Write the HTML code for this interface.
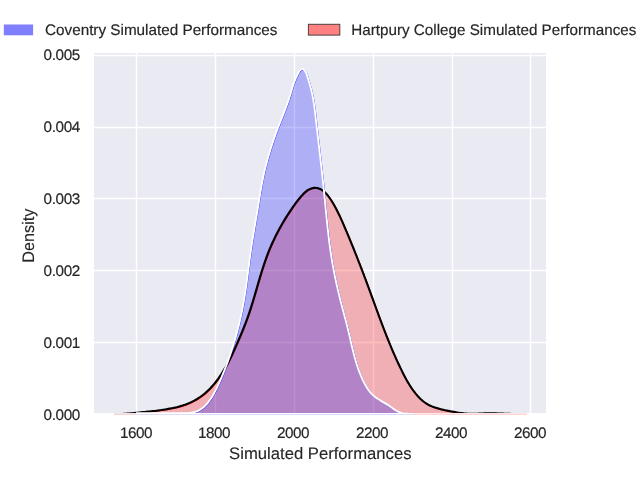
<!DOCTYPE html>
<html><head><meta charset="utf-8"><style>
html,body{margin:0;padding:0;background:#fff;}
body{width:640px;height:480px;overflow:hidden;}
svg{display:block;will-change:transform;text-rendering:geometricPrecision;font-family:"Liberation Sans",sans-serif;fill:#262626;}
text{stroke:#262626;stroke-width:0.18px;}
.l{stroke-width:0.12px;}
.t{font-size:15.28px;}
.l{font-size:16.67px;}
</style></head><body>
<svg width="640" height="480" viewBox="0 0 640 480">
<rect x="0" y="0" width="640" height="480" fill="#fff"/>
<rect x="94" y="53" width="452" height="360" fill="#eaeaf2"/>
<g stroke="#fff" stroke-width="1.39" fill="none"><line x1="136.5" y1="53" x2="136.5" y2="413"/><line x1="215.5" y1="53" x2="215.5" y2="413"/><line x1="294.5" y1="53" x2="294.5" y2="413"/><line x1="373.5" y1="53" x2="373.5" y2="413"/><line x1="452.5" y1="53" x2="452.5" y2="413"/><line x1="530.5" y1="53" x2="530.5" y2="413"/><line x1="94" y1="55.5" x2="546" y2="55.5"/><line x1="94" y1="127.5" x2="546" y2="127.5"/><line x1="94" y1="198.5" x2="546" y2="198.5"/><line x1="94" y1="270.5" x2="546" y2="270.5"/><line x1="94" y1="342.5" x2="546" y2="342.5"/></g>
<clipPath id="c"><rect x="94" y="53" width="452" height="360"/></clipPath>
<g clip-path="url(#c)" stroke-linejoin="round">
<path d="M113.75,414.30 L115.46,414.27 L117.18,414.22 L118.89,414.16 L120.60,414.08 L122.31,413.99 L124.02,413.88 L125.72,413.76 L127.43,413.63 L129.14,413.48 L130.84,413.33 L132.55,413.18 L134.25,413.01 L135.96,412.84 L137.66,412.67 L139.36,412.49 L141.07,412.31 L142.77,412.13 L144.48,411.96 L146.18,411.78 L147.88,411.61 L149.59,411.44 L151.29,411.27 L153.00,411.11 L154.70,410.93 L156.40,410.73 L158.09,410.51 L159.79,410.26 L161.48,410.00 L163.16,409.72 L164.85,409.44 L166.55,409.16 L168.24,408.87 L169.93,408.57 L171.62,408.26 L173.30,407.93 L174.98,407.58 L176.65,407.21 L178.32,406.80 L179.97,406.36 L181.61,405.87 L183.23,405.35 L184.84,404.79 L186.44,404.19 L188.03,403.55 L189.60,402.87 L191.16,402.15 L192.70,401.39 L194.23,400.59 L195.73,399.75 L197.21,398.87 L198.66,397.96 L200.08,397.01 L201.47,396.02 L202.83,395.00 L204.15,393.94 L205.45,392.85 L206.71,391.73 L207.95,390.58 L209.16,389.39 L210.35,388.18 L211.50,386.95 L212.64,385.68 L213.75,384.39 L214.83,383.08 L215.90,381.74 L216.94,380.39 L217.96,379.01 L218.96,377.61 L219.95,376.20 L220.91,374.77 L221.85,373.32 L222.78,371.86 L223.68,370.39 L224.57,368.91 L225.44,367.41 L226.29,365.91 L227.12,364.39 L227.94,362.88 L228.74,361.35 L229.52,359.82 L230.28,358.29 L231.03,356.76 L231.77,355.22 L232.50,353.68 L233.21,352.14 L233.91,350.59 L234.61,349.04 L235.30,347.49 L235.99,345.94 L236.68,344.38 L237.36,342.82 L238.04,341.26 L238.72,339.69 L239.39,338.12 L240.06,336.55 L240.73,334.98 L241.39,333.40 L242.04,331.82 L242.69,330.24 L243.34,328.65 L243.97,327.06 L244.60,325.46 L245.22,323.87 L245.83,322.26 L246.44,320.66 L247.03,319.05 L247.62,317.44 L248.19,315.82 L248.75,314.20 L249.30,312.58 L249.85,310.95 L250.38,309.32 L250.91,307.69 L251.43,306.05 L251.94,304.41 L252.45,302.77 L252.95,301.13 L253.44,299.49 L253.94,297.84 L254.42,296.19 L254.91,294.54 L255.39,292.90 L255.87,291.25 L256.35,289.60 L256.82,287.95 L257.30,286.30 L257.78,284.65 L258.26,283.00 L258.74,281.35 L259.23,279.71 L259.71,278.06 L260.20,276.42 L260.70,274.78 L261.20,273.14 L261.70,271.50 L262.21,269.87 L262.73,268.24 L263.26,266.61 L263.79,264.99 L264.33,263.36 L264.89,261.75 L265.45,260.13 L266.02,258.53 L266.60,256.92 L267.20,255.32 L267.80,253.73 L268.42,252.14 L269.06,250.55 L269.70,248.97 L270.36,247.40 L271.04,245.83 L271.72,244.27 L272.42,242.72 L273.13,241.17 L273.86,239.62 L274.59,238.08 L275.34,236.55 L276.10,235.02 L276.88,233.50 L277.66,231.99 L278.46,230.48 L279.27,228.97 L280.10,227.47 L280.93,225.98 L281.78,224.50 L282.63,223.02 L283.50,221.55 L284.38,220.08 L285.27,218.62 L286.18,217.16 L287.09,215.72 L288.01,214.27 L288.95,212.84 L289.90,211.41 L290.85,209.99 L291.82,208.57 L292.80,207.16 L293.79,205.76 L294.79,204.37 L295.80,202.98 L296.84,201.60 L297.90,200.23 L298.98,198.87 L300.10,197.52 L301.25,196.17 L302.44,194.85 L303.68,193.56 L304.96,192.34 L306.30,191.21 L307.69,190.21 L309.15,189.35 L310.67,188.67 L312.23,188.18 L313.82,187.89 L315.42,187.83 L317.02,187.99 L318.58,188.37 L320.10,188.95 L321.55,189.72 L322.94,190.67 L324.27,191.75 L325.54,192.96 L326.75,194.26 L327.91,195.64 L329.01,197.07 L330.05,198.53 L331.04,200.00 L331.99,201.47 L332.89,202.94 L333.76,204.42 L334.59,205.90 L335.41,207.40 L336.20,208.90 L336.98,210.42 L337.74,211.94 L338.49,213.47 L339.23,215.00 L339.95,216.54 L340.66,218.09 L341.36,219.64 L342.05,221.20 L342.74,222.76 L343.42,224.33 L344.09,225.90 L344.76,227.47 L345.43,229.04 L346.10,230.61 L346.76,232.19 L347.43,233.76 L348.09,235.34 L348.74,236.92 L349.40,238.50 L350.05,240.08 L350.70,241.67 L351.35,243.25 L352.00,244.84 L352.65,246.43 L353.29,248.01 L353.93,249.60 L354.57,251.19 L355.21,252.79 L355.84,254.38 L356.47,255.97 L357.10,257.57 L357.73,259.16 L358.36,260.76 L358.98,262.36 L359.60,263.95 L360.22,265.55 L360.84,267.15 L361.46,268.75 L362.07,270.35 L362.68,271.95 L363.29,273.56 L363.90,275.16 L364.50,276.76 L365.11,278.36 L365.71,279.97 L366.31,281.57 L366.90,283.18 L367.50,284.78 L368.09,286.39 L368.68,287.99 L369.27,289.60 L369.86,291.20 L370.45,292.81 L371.03,294.41 L371.62,296.02 L372.20,297.63 L372.79,299.23 L373.37,300.84 L373.96,302.44 L374.54,304.05 L375.13,305.65 L375.71,307.26 L376.30,308.86 L376.88,310.47 L377.47,312.07 L378.06,313.68 L378.65,315.28 L379.25,316.88 L379.84,318.49 L380.44,320.09 L381.04,321.69 L381.64,323.29 L382.24,324.89 L382.85,326.49 L383.46,328.09 L384.08,329.69 L384.69,331.29 L385.31,332.88 L385.94,334.48 L386.57,336.08 L387.20,337.67 L387.84,339.26 L388.48,340.86 L389.13,342.45 L389.78,344.04 L390.44,345.63 L391.10,347.22 L391.77,348.80 L392.44,350.39 L393.12,351.97 L393.81,353.55 L394.50,355.12 L395.20,356.70 L395.90,358.27 L396.60,359.83 L397.32,361.40 L398.04,362.95 L398.76,364.50 L399.50,366.05 L400.23,367.59 L400.98,369.13 L401.73,370.66 L402.49,372.18 L403.25,373.70 L404.02,375.21 L404.81,376.71 L405.60,378.20 L406.41,379.68 L407.24,381.16 L408.09,382.62 L408.96,384.07 L409.85,385.50 L410.77,386.93 L411.71,388.34 L412.69,389.73 L413.70,391.11 L414.75,392.48 L415.83,393.83 L416.95,395.15 L418.10,396.45 L419.30,397.71 L420.54,398.93 L421.82,400.10 L423.14,401.21 L424.50,402.27 L425.90,403.25 L427.35,404.16 L428.85,404.99 L430.38,405.73 L431.95,406.40 L433.56,407.01 L435.18,407.57 L436.81,408.08 L438.45,408.56 L440.10,409.01 L441.76,409.43 L443.43,409.83 L445.10,410.20 L446.78,410.55 L448.47,410.89 L450.15,411.21 L451.84,411.53 L453.52,411.83 L455.21,412.13 L456.90,412.42 L458.59,412.68 L460.28,412.93 L461.97,413.15 L463.67,413.35 L465.37,413.51 L467.08,413.63 L468.79,413.71 L470.50,413.76 L472.22,413.79 L473.93,413.78 L475.65,413.75 L477.36,413.70 L479.08,413.64 L480.79,413.57 L482.50,413.49 L484.21,413.41 L485.92,413.34 L487.63,413.29 L489.34,413.26 L491.05,413.26 L492.76,413.28 L494.47,413.32 L496.18,413.37 L497.90,413.43 L499.61,413.50 L501.32,413.58 L503.03,413.65 L504.75,413.72 L506.46,413.78 L508.17,413.85 L509.88,413.91 L511.59,413.96 L513.30,414.01 L515.01,414.05 L516.72,414.08 L518.44,414.11 L520.15,414.12 L521.86,414.13 L523.57,414.13 L525.29,414.12 L527.00,414.09 L527.00,413.5 L113.75,413.5 Z" fill="rgba(255,0,0,0.25)" stroke="#ff0000" stroke-width="1.2" transform="translate(0.5,0.5)"/>
<path d="M136.00,413.20 L138.03,413.21 L140.06,413.22 L142.09,413.22 L144.11,413.23 L146.14,413.23 L148.17,413.22 L150.19,413.22 L152.22,413.21 L154.24,413.20 L156.27,413.20 L158.30,413.19 L160.32,413.18 L162.35,413.18 L164.37,413.17 L166.40,413.17 L168.43,413.17 L170.45,413.17 L172.48,413.17 L174.51,413.18 L176.54,413.19 L178.57,413.21 L180.60,413.23 L182.63,413.25 L184.66,413.24 L186.69,413.18 L188.70,413.05 L190.71,412.82 L192.71,412.47 L194.68,411.98 L196.61,411.35 L198.48,410.57 L200.27,409.63 L201.96,408.52 L203.55,407.26 L205.04,405.86 L206.45,404.37 L207.77,402.81 L209.03,401.20 L210.22,399.55 L211.35,397.88 L212.43,396.17 L213.46,394.44 L214.44,392.68 L215.38,390.90 L216.29,389.10 L217.17,387.28 L218.02,385.45 L218.85,383.61 L219.66,381.75 L220.47,379.90 L221.26,378.04 L222.04,376.17 L222.81,374.30 L223.57,372.42 L224.32,370.54 L225.07,368.65 L225.80,366.76 L226.52,364.87 L227.22,362.97 L227.92,361.06 L228.61,359.15 L229.29,357.24 L229.96,355.32 L230.61,353.40 L231.26,351.48 L231.89,349.55 L232.51,347.62 L233.12,345.68 L233.73,343.74 L234.31,341.80 L234.89,339.86 L235.46,337.91 L236.01,335.95 L236.56,334.00 L237.09,332.04 L237.61,330.08 L238.12,328.11 L238.62,326.15 L239.10,324.18 L239.58,322.20 L240.04,320.23 L240.49,318.25 L240.93,316.27 L241.35,314.29 L241.77,312.30 L242.17,310.32 L242.56,308.33 L242.93,306.34 L243.30,304.34 L243.65,302.35 L244.00,300.35 L244.33,298.35 L244.65,296.36 L244.97,294.35 L245.28,292.35 L245.58,290.35 L245.87,288.35 L246.16,286.34 L246.44,284.34 L246.71,282.33 L246.98,280.32 L247.25,278.31 L247.52,276.30 L247.78,274.30 L248.04,272.29 L248.30,270.28 L248.57,268.27 L248.83,266.26 L249.09,264.25 L249.35,262.24 L249.62,260.23 L249.89,258.22 L250.16,256.21 L250.43,254.21 L250.72,252.20 L251.00,250.19 L251.30,248.19 L251.59,246.18 L251.90,244.18 L252.21,242.18 L252.53,240.18 L252.85,238.18 L253.18,236.18 L253.51,234.18 L253.85,232.18 L254.18,230.18 L254.52,228.18 L254.86,226.18 L255.20,224.18 L255.54,222.18 L255.89,220.19 L256.23,218.19 L256.57,216.19 L256.90,214.19 L257.24,212.19 L257.57,210.19 L257.90,208.19 L258.22,206.19 L258.54,204.18 L258.86,202.18 L259.18,200.18 L259.50,198.18 L259.82,196.18 L260.14,194.18 L260.47,192.18 L260.81,190.18 L261.15,188.18 L261.51,186.19 L261.87,184.19 L262.25,182.20 L262.64,180.22 L263.04,178.23 L263.46,176.25 L263.89,174.27 L264.34,172.29 L264.80,170.32 L265.27,168.35 L265.76,166.39 L266.26,164.42 L266.78,162.46 L267.31,160.50 L267.85,158.55 L268.40,156.60 L268.97,154.65 L269.55,152.71 L270.14,150.77 L270.74,148.83 L271.36,146.90 L271.98,144.97 L272.62,143.05 L273.27,141.12 L273.92,139.21 L274.59,137.29 L275.27,135.38 L275.96,133.47 L276.66,131.57 L277.37,129.67 L278.08,127.78 L278.81,125.88 L279.54,123.99 L280.28,122.11 L281.02,120.22 L281.76,118.34 L282.50,116.45 L283.24,114.57 L283.98,112.68 L284.70,110.80 L285.43,108.91 L286.14,107.01 L286.84,105.12 L287.52,103.21 L288.20,101.31 L288.85,99.39 L289.49,97.47 L290.11,95.55 L290.71,93.61 L291.28,91.67 L291.83,89.71 L292.39,87.76 L292.98,85.81 L293.62,83.87 L294.32,81.95 L295.09,80.06 L295.90,78.19 L296.73,76.35 L297.59,74.55 L298.47,72.79 L299.56,70.98 L301.01,69.34 L302.75,69.06 L304.45,70.33 L305.67,72.04 L306.51,73.86 L307.15,75.74 L307.73,77.66 L308.32,79.59 L308.92,81.54 L309.51,83.49 L310.10,85.45 L310.65,87.42 L311.16,89.39 L311.64,91.37 L312.09,93.35 L312.50,95.34 L312.89,97.33 L313.25,99.32 L313.58,101.32 L313.89,103.32 L314.19,105.32 L314.47,107.33 L314.73,109.33 L314.98,111.34 L315.22,113.35 L315.46,115.36 L315.69,117.37 L315.91,119.39 L316.14,121.40 L316.37,123.41 L316.60,125.42 L316.83,127.43 L317.06,129.45 L317.29,131.46 L317.53,133.47 L317.76,135.48 L317.99,137.50 L318.22,139.51 L318.46,141.52 L318.69,143.53 L318.92,145.55 L319.15,147.56 L319.39,149.57 L319.62,151.58 L319.85,153.60 L320.08,155.61 L320.31,157.62 L320.54,159.64 L320.77,161.65 L321.00,163.66 L321.23,165.68 L321.46,167.69 L321.68,169.71 L321.91,171.72 L322.13,173.74 L322.35,175.75 L322.57,177.77 L322.79,179.78 L323.01,181.80 L323.22,183.81 L323.44,185.83 L323.65,187.85 L323.86,189.86 L324.07,191.88 L324.27,193.90 L324.48,195.92 L324.68,197.94 L324.88,199.95 L325.08,201.97 L325.27,203.99 L325.47,206.01 L325.67,208.03 L325.86,210.05 L326.06,212.07 L326.26,214.09 L326.46,216.11 L326.66,218.12 L326.87,220.14 L327.07,222.16 L327.28,224.18 L327.50,226.19 L327.71,228.21 L327.93,230.22 L328.16,232.24 L328.39,234.25 L328.63,236.26 L328.87,238.28 L329.11,240.29 L329.37,242.30 L329.63,244.31 L329.90,246.31 L330.17,248.32 L330.45,250.32 L330.75,252.33 L331.05,254.33 L331.36,256.33 L331.67,258.33 L332.00,260.33 L332.34,262.32 L332.68,264.32 L333.04,266.31 L333.40,268.30 L333.78,270.29 L334.16,272.28 L334.55,274.27 L334.94,276.25 L335.35,278.24 L335.77,280.22 L336.19,282.20 L336.62,284.18 L337.06,286.16 L337.51,288.14 L337.96,290.11 L338.43,292.09 L338.90,294.06 L339.38,296.03 L339.86,298.00 L340.36,299.97 L340.86,301.93 L341.37,303.90 L341.88,305.86 L342.40,307.83 L342.92,309.79 L343.44,311.75 L343.96,313.71 L344.49,315.68 L345.01,317.64 L345.53,319.60 L346.04,321.56 L346.55,323.53 L347.05,325.49 L347.54,327.46 L348.03,329.43 L348.51,331.40 L348.97,333.37 L349.43,335.34 L349.89,337.31 L350.34,339.28 L350.79,341.25 L351.25,343.22 L351.70,345.19 L352.17,347.16 L352.63,349.12 L353.11,351.08 L353.60,353.04 L354.10,355.00 L354.62,356.95 L355.16,358.89 L355.71,360.83 L356.28,362.77 L356.88,364.70 L357.50,366.62 L358.15,368.53 L358.83,370.44 L359.54,372.34 L360.29,374.23 L361.07,376.11 L361.88,377.98 L362.73,379.85 L363.63,381.70 L364.57,383.54 L365.56,385.35 L366.60,387.13 L367.71,388.86 L368.88,390.53 L370.13,392.13 L371.46,393.64 L372.87,395.07 L374.37,396.38 L375.96,397.59 L377.62,398.72 L379.32,399.79 L381.04,400.81 L382.78,401.82 L384.52,402.84 L386.25,403.86 L387.97,404.93 L389.66,406.05 L391.32,407.23 L392.96,408.45 L394.61,409.64 L396.30,410.75 L398.05,411.73 L399.89,412.52 L401.84,413.09 L403.87,413.45 L405.94,413.67 L408.03,413.78 L410.09,413.84 L412.10,413.90 L414.00,414.00 L414.00,413.5 L136.00,413.5 Z" fill="rgba(0,0,255,0.25)" stroke="#0000ff" stroke-width="1.2" transform="translate(0.5,0.5)"/>
<path d="M113.75,414.30 L115.46,414.27 L117.18,414.22 L118.89,414.16 L120.60,414.08 L122.31,413.99 L124.02,413.88 L125.72,413.76 L127.43,413.63 L129.14,413.48 L130.84,413.33 L132.55,413.18 L134.25,413.01 L135.96,412.84 L137.66,412.67 L139.36,412.49 L141.07,412.31 L142.77,412.13 L144.48,411.96 L146.18,411.78 L147.88,411.61 L149.59,411.44 L151.29,411.27 L153.00,411.11 L154.70,410.93 L156.40,410.73 L158.09,410.51 L159.79,410.26 L161.48,410.00 L163.16,409.72 L164.85,409.44 L166.55,409.16 L168.24,408.87 L169.93,408.57 L171.62,408.26 L173.30,407.93 L174.98,407.58 L176.65,407.21 L178.32,406.80 L179.97,406.36 L181.61,405.87 L183.23,405.35 L184.84,404.79 L186.44,404.19 L188.03,403.55 L189.60,402.87 L191.16,402.15 L192.70,401.39 L194.23,400.59 L195.73,399.75 L197.21,398.87 L198.66,397.96 L200.08,397.01 L201.47,396.02 L202.83,395.00 L204.15,393.94 L205.45,392.85 L206.71,391.73 L207.95,390.58 L209.16,389.39 L210.35,388.18 L211.50,386.95 L212.64,385.68 L213.75,384.39 L214.83,383.08 L215.90,381.74 L216.94,380.39 L217.96,379.01 L218.96,377.61 L219.95,376.20 L220.91,374.77 L221.85,373.32 L222.78,371.86 L223.68,370.39 L224.57,368.91 L225.44,367.41 L226.29,365.91 L227.12,364.39 L227.94,362.88 L228.74,361.35 L229.52,359.82 L230.28,358.29 L231.03,356.76 L231.77,355.22 L232.50,353.68 L233.21,352.14 L233.91,350.59 L234.61,349.04 L235.30,347.49 L235.99,345.94 L236.68,344.38 L237.36,342.82 L238.04,341.26 L238.72,339.69 L239.39,338.12 L240.06,336.55 L240.73,334.98 L241.39,333.40 L242.04,331.82 L242.69,330.24 L243.34,328.65 L243.97,327.06 L244.60,325.46 L245.22,323.87 L245.83,322.26 L246.44,320.66 L247.03,319.05 L247.62,317.44 L248.19,315.82 L248.75,314.20 L249.30,312.58 L249.85,310.95 L250.38,309.32 L250.91,307.69 L251.43,306.05 L251.94,304.41 L252.45,302.77 L252.95,301.13 L253.44,299.49 L253.94,297.84 L254.42,296.19 L254.91,294.54 L255.39,292.90 L255.87,291.25 L256.35,289.60 L256.82,287.95 L257.30,286.30 L257.78,284.65 L258.26,283.00 L258.74,281.35 L259.23,279.71 L259.71,278.06 L260.20,276.42 L260.70,274.78 L261.20,273.14 L261.70,271.50 L262.21,269.87 L262.73,268.24 L263.26,266.61 L263.79,264.99 L264.33,263.36 L264.89,261.75 L265.45,260.13 L266.02,258.53 L266.60,256.92 L267.20,255.32 L267.80,253.73 L268.42,252.14 L269.06,250.55 L269.70,248.97 L270.36,247.40 L271.04,245.83 L271.72,244.27 L272.42,242.72 L273.13,241.17 L273.86,239.62 L274.59,238.08 L275.34,236.55 L276.10,235.02 L276.88,233.50 L277.66,231.99 L278.46,230.48 L279.27,228.97 L280.10,227.47 L280.93,225.98 L281.78,224.50 L282.63,223.02 L283.50,221.55 L284.38,220.08 L285.27,218.62 L286.18,217.16 L287.09,215.72 L288.01,214.27 L288.95,212.84 L289.90,211.41 L290.85,209.99 L291.82,208.57 L292.80,207.16 L293.79,205.76 L294.79,204.37 L295.80,202.98 L296.84,201.60 L297.90,200.23 L298.98,198.87 L300.10,197.52 L301.25,196.17 L302.44,194.85 L303.68,193.56 L304.96,192.34 L306.30,191.21 L307.69,190.21 L309.15,189.35 L310.67,188.67 L312.23,188.18 L313.82,187.89 L315.42,187.83 L317.02,187.99 L318.58,188.37 L320.10,188.95 L321.55,189.72 L322.94,190.67 L324.27,191.75 L325.54,192.96 L326.75,194.26 L327.91,195.64 L329.01,197.07 L330.05,198.53 L331.04,200.00 L331.99,201.47 L332.89,202.94 L333.76,204.42 L334.59,205.90 L335.41,207.40 L336.20,208.90 L336.98,210.42 L337.74,211.94 L338.49,213.47 L339.23,215.00 L339.95,216.54 L340.66,218.09 L341.36,219.64 L342.05,221.20 L342.74,222.76 L343.42,224.33 L344.09,225.90 L344.76,227.47 L345.43,229.04 L346.10,230.61 L346.76,232.19 L347.43,233.76 L348.09,235.34 L348.74,236.92 L349.40,238.50 L350.05,240.08 L350.70,241.67 L351.35,243.25 L352.00,244.84 L352.65,246.43 L353.29,248.01 L353.93,249.60 L354.57,251.19 L355.21,252.79 L355.84,254.38 L356.47,255.97 L357.10,257.57 L357.73,259.16 L358.36,260.76 L358.98,262.36 L359.60,263.95 L360.22,265.55 L360.84,267.15 L361.46,268.75 L362.07,270.35 L362.68,271.95 L363.29,273.56 L363.90,275.16 L364.50,276.76 L365.11,278.36 L365.71,279.97 L366.31,281.57 L366.90,283.18 L367.50,284.78 L368.09,286.39 L368.68,287.99 L369.27,289.60 L369.86,291.20 L370.45,292.81 L371.03,294.41 L371.62,296.02 L372.20,297.63 L372.79,299.23 L373.37,300.84 L373.96,302.44 L374.54,304.05 L375.13,305.65 L375.71,307.26 L376.30,308.86 L376.88,310.47 L377.47,312.07 L378.06,313.68 L378.65,315.28 L379.25,316.88 L379.84,318.49 L380.44,320.09 L381.04,321.69 L381.64,323.29 L382.24,324.89 L382.85,326.49 L383.46,328.09 L384.08,329.69 L384.69,331.29 L385.31,332.88 L385.94,334.48 L386.57,336.08 L387.20,337.67 L387.84,339.26 L388.48,340.86 L389.13,342.45 L389.78,344.04 L390.44,345.63 L391.10,347.22 L391.77,348.80 L392.44,350.39 L393.12,351.97 L393.81,353.55 L394.50,355.12 L395.20,356.70 L395.90,358.27 L396.60,359.83 L397.32,361.40 L398.04,362.95 L398.76,364.50 L399.50,366.05 L400.23,367.59 L400.98,369.13 L401.73,370.66 L402.49,372.18 L403.25,373.70 L404.02,375.21 L404.81,376.71 L405.60,378.20 L406.41,379.68 L407.24,381.16 L408.09,382.62 L408.96,384.07 L409.85,385.50 L410.77,386.93 L411.71,388.34 L412.69,389.73 L413.70,391.11 L414.75,392.48 L415.83,393.83 L416.95,395.15 L418.10,396.45 L419.30,397.71 L420.54,398.93 L421.82,400.10 L423.14,401.21 L424.50,402.27 L425.90,403.25 L427.35,404.16 L428.85,404.99 L430.38,405.73 L431.95,406.40 L433.56,407.01 L435.18,407.57 L436.81,408.08 L438.45,408.56 L440.10,409.01 L441.76,409.43 L443.43,409.83 L445.10,410.20 L446.78,410.55 L448.47,410.89 L450.15,411.21 L451.84,411.53 L453.52,411.83 L455.21,412.13 L456.90,412.42 L458.59,412.68 L460.28,412.93 L461.97,413.15 L463.67,413.35 L465.37,413.51 L467.08,413.63 L468.79,413.71 L470.50,413.76 L472.22,413.79 L473.93,413.78 L475.65,413.75 L477.36,413.70 L479.08,413.64 L480.79,413.57 L482.50,413.49 L484.21,413.41 L485.92,413.34 L487.63,413.29 L489.34,413.26 L491.05,413.26 L492.76,413.28 L494.47,413.32 L496.18,413.37 L497.90,413.43 L499.61,413.50 L501.32,413.58 L503.03,413.65 L504.75,413.72 L506.46,413.78 L508.17,413.85 L509.88,413.91 L511.59,413.96 L513.30,414.01 L515.01,414.05 L516.72,414.08 L518.44,414.11 L520.15,414.12 L521.86,414.13 L523.57,414.13 L525.29,414.12 L527.00,414.09" fill="none" stroke="#000" stroke-width="2.08"/>
<path d="M136.00,413.20 L138.03,413.21 L140.06,413.22 L142.09,413.22 L144.11,413.23 L146.14,413.23 L148.17,413.22 L150.19,413.22 L152.22,413.21 L154.24,413.20 L156.27,413.20 L158.30,413.19 L160.32,413.18 L162.35,413.18 L164.37,413.17 L166.40,413.17 L168.43,413.17 L170.45,413.17 L172.48,413.17 L174.51,413.18 L176.54,413.19 L178.57,413.21 L180.60,413.23 L182.63,413.25 L184.66,413.24 L186.69,413.18 L188.70,413.05 L190.71,412.82 L192.71,412.47 L194.68,411.98 L196.61,411.35 L198.48,410.57 L200.27,409.63 L201.96,408.52 L203.55,407.26 L205.04,405.86 L206.45,404.37 L207.77,402.81 L209.03,401.20 L210.22,399.55 L211.35,397.88 L212.43,396.17 L213.46,394.44 L214.44,392.68 L215.38,390.90 L216.29,389.10 L217.17,387.28 L218.02,385.45 L218.85,383.61 L219.66,381.75 L220.47,379.90 L221.26,378.04 L222.04,376.17 L222.81,374.30 L223.57,372.42 L224.32,370.54 L225.07,368.65 L225.80,366.76 L226.52,364.87 L227.22,362.97 L227.92,361.06 L228.61,359.15 L229.29,357.24 L229.96,355.32 L230.61,353.40 L231.26,351.48 L231.89,349.55 L232.51,347.62 L233.12,345.68 L233.73,343.74 L234.31,341.80 L234.89,339.86 L235.46,337.91 L236.01,335.95 L236.56,334.00 L237.09,332.04 L237.61,330.08 L238.12,328.11 L238.62,326.15 L239.10,324.18 L239.58,322.20 L240.04,320.23 L240.49,318.25 L240.93,316.27 L241.35,314.29 L241.77,312.30 L242.17,310.32 L242.56,308.33 L242.93,306.34 L243.30,304.34 L243.65,302.35 L244.00,300.35 L244.33,298.35 L244.65,296.36 L244.97,294.35 L245.28,292.35 L245.58,290.35 L245.87,288.35 L246.16,286.34 L246.44,284.34 L246.71,282.33 L246.98,280.32 L247.25,278.31 L247.52,276.30 L247.78,274.30 L248.04,272.29 L248.30,270.28 L248.57,268.27 L248.83,266.26 L249.09,264.25 L249.35,262.24 L249.62,260.23 L249.89,258.22 L250.16,256.21 L250.43,254.21 L250.72,252.20 L251.00,250.19 L251.30,248.19 L251.59,246.18 L251.90,244.18 L252.21,242.18 L252.53,240.18 L252.85,238.18 L253.18,236.18 L253.51,234.18 L253.85,232.18 L254.18,230.18 L254.52,228.18 L254.86,226.18 L255.20,224.18 L255.54,222.18 L255.89,220.19 L256.23,218.19 L256.57,216.19 L256.90,214.19 L257.24,212.19 L257.57,210.19 L257.90,208.19 L258.22,206.19 L258.54,204.18 L258.86,202.18 L259.18,200.18 L259.50,198.18 L259.82,196.18 L260.14,194.18 L260.47,192.18 L260.81,190.18 L261.15,188.18 L261.51,186.19 L261.87,184.19 L262.25,182.20 L262.64,180.22 L263.04,178.23 L263.46,176.25 L263.89,174.27 L264.34,172.29 L264.80,170.32 L265.27,168.35 L265.76,166.39 L266.26,164.42 L266.78,162.46 L267.31,160.50 L267.85,158.55 L268.40,156.60 L268.97,154.65 L269.55,152.71 L270.14,150.77 L270.74,148.83 L271.36,146.90 L271.98,144.97 L272.62,143.05 L273.27,141.12 L273.92,139.21 L274.59,137.29 L275.27,135.38 L275.96,133.47 L276.66,131.57 L277.37,129.67 L278.08,127.78 L278.81,125.88 L279.54,123.99 L280.28,122.11 L281.02,120.22 L281.76,118.34 L282.50,116.45 L283.24,114.57 L283.98,112.68 L284.70,110.80 L285.43,108.91 L286.14,107.01 L286.84,105.12 L287.52,103.21 L288.20,101.31 L288.85,99.39 L289.49,97.47 L290.11,95.55 L290.71,93.61 L291.28,91.67 L291.83,89.71 L292.39,87.76 L292.98,85.81 L293.62,83.87 L294.32,81.95 L295.09,80.06 L295.90,78.19 L296.73,76.35 L297.59,74.55 L298.47,72.79 L299.56,70.98 L301.01,69.34 L302.75,69.06 L304.45,70.33 L305.67,72.04 L306.51,73.86 L307.15,75.74 L307.73,77.66 L308.32,79.59 L308.92,81.54 L309.51,83.49 L310.10,85.45 L310.65,87.42 L311.16,89.39 L311.64,91.37 L312.09,93.35 L312.50,95.34 L312.89,97.33 L313.25,99.32 L313.58,101.32 L313.89,103.32 L314.19,105.32 L314.47,107.33 L314.73,109.33 L314.98,111.34 L315.22,113.35 L315.46,115.36 L315.69,117.37 L315.91,119.39 L316.14,121.40 L316.37,123.41 L316.60,125.42 L316.83,127.43 L317.06,129.45 L317.29,131.46 L317.53,133.47 L317.76,135.48 L317.99,137.50 L318.22,139.51 L318.46,141.52 L318.69,143.53 L318.92,145.55 L319.15,147.56 L319.39,149.57 L319.62,151.58 L319.85,153.60 L320.08,155.61 L320.31,157.62 L320.54,159.64 L320.77,161.65 L321.00,163.66 L321.23,165.68 L321.46,167.69 L321.68,169.71 L321.91,171.72 L322.13,173.74 L322.35,175.75 L322.57,177.77 L322.79,179.78 L323.01,181.80 L323.22,183.81 L323.44,185.83 L323.65,187.85 L323.86,189.86 L324.07,191.88 L324.27,193.90 L324.48,195.92 L324.68,197.94 L324.88,199.95 L325.08,201.97 L325.27,203.99 L325.47,206.01 L325.67,208.03 L325.86,210.05 L326.06,212.07 L326.26,214.09 L326.46,216.11 L326.66,218.12 L326.87,220.14 L327.07,222.16 L327.28,224.18 L327.50,226.19 L327.71,228.21 L327.93,230.22 L328.16,232.24 L328.39,234.25 L328.63,236.26 L328.87,238.28 L329.11,240.29 L329.37,242.30 L329.63,244.31 L329.90,246.31 L330.17,248.32 L330.45,250.32 L330.75,252.33 L331.05,254.33 L331.36,256.33 L331.67,258.33 L332.00,260.33 L332.34,262.32 L332.68,264.32 L333.04,266.31 L333.40,268.30 L333.78,270.29 L334.16,272.28 L334.55,274.27 L334.94,276.25 L335.35,278.24 L335.77,280.22 L336.19,282.20 L336.62,284.18 L337.06,286.16 L337.51,288.14 L337.96,290.11 L338.43,292.09 L338.90,294.06 L339.38,296.03 L339.86,298.00 L340.36,299.97 L340.86,301.93 L341.37,303.90 L341.88,305.86 L342.40,307.83 L342.92,309.79 L343.44,311.75 L343.96,313.71 L344.49,315.68 L345.01,317.64 L345.53,319.60 L346.04,321.56 L346.55,323.53 L347.05,325.49 L347.54,327.46 L348.03,329.43 L348.51,331.40 L348.97,333.37 L349.43,335.34 L349.89,337.31 L350.34,339.28 L350.79,341.25 L351.25,343.22 L351.70,345.19 L352.17,347.16 L352.63,349.12 L353.11,351.08 L353.60,353.04 L354.10,355.00 L354.62,356.95 L355.16,358.89 L355.71,360.83 L356.28,362.77 L356.88,364.70 L357.50,366.62 L358.15,368.53 L358.83,370.44 L359.54,372.34 L360.29,374.23 L361.07,376.11 L361.88,377.98 L362.73,379.85 L363.63,381.70 L364.57,383.54 L365.56,385.35 L366.60,387.13 L367.71,388.86 L368.88,390.53 L370.13,392.13 L371.46,393.64 L372.87,395.07 L374.37,396.38 L375.96,397.59 L377.62,398.72 L379.32,399.79 L381.04,400.81 L382.78,401.82 L384.52,402.84 L386.25,403.86 L387.97,404.93 L389.66,406.05 L391.32,407.23 L392.96,408.45 L394.61,409.64 L396.30,410.75 L398.05,411.73 L399.89,412.52 L401.84,413.09 L403.87,413.45 L405.94,413.67 L408.03,413.78 L410.09,413.84 L412.10,413.90 L414.00,414.00" fill="none" stroke="#fff" stroke-width="1.9"/>
</g>
<rect x="114" y="413" width="22" height="1" fill="#eee4e6"/>
<rect x="414" y="413" width="113" height="1" fill="#ffe8e8"/>
<rect x="114" y="414" width="22.5" height="0.8" fill="#ffcaca"/>
<rect x="136.5" y="414" width="277.5" height="0.8" fill="#d4d4ff"/>
<rect x="414" y="414" width="113" height="0.8" fill="#ffcaca"/>
<g class="t" style="letter-spacing:-0.5px"><text x="120" y="437.7">1600</text><text x="198" y="437.7">1800</text><text x="277" y="437.7">2000</text><text x="356" y="437.7">2200</text><text x="435" y="437.7">2400</text><text x="514" y="437.7">2600</text><text x="79.9" y="59.6" text-anchor="end" style="letter-spacing:-0.38px">0.005</text><text x="79.9" y="131.6" text-anchor="end" style="letter-spacing:-0.38px">0.004</text><text x="79.9" y="203.6" text-anchor="end" style="letter-spacing:-0.38px">0.003</text><text x="79.9" y="275.6" text-anchor="end" style="letter-spacing:-0.38px">0.002</text><text x="79.9" y="347.6" text-anchor="end" style="letter-spacing:-0.38px">0.001</text><text x="79.9" y="419.7" text-anchor="end" style="letter-spacing:-0.38px">0.000</text></g>
<text class="l" x="320.3" y="458.7" text-anchor="middle">Simulated Performances</text>
<text class="l" transform="translate(33.9,235.6) rotate(-90) scale(0.975,1)" text-anchor="middle">Density</text>
<rect x="3.8" y="24.5" width="29.3" height="10.8" fill="#8080ff"/>
<rect x="308.4" y="24.3" width="31.4" height="10.8" fill="#ff8080" stroke="#4d4040" stroke-width="1"/>
<text class="t" x="45" y="34.7">Coventry Simulated Performances</text>
<text class="t" x="351.2" y="34.7" textLength="285.2" lengthAdjust="spacingAndGlyphs">Hartpury College Simulated Performances</text>
</svg>
</body></html>
